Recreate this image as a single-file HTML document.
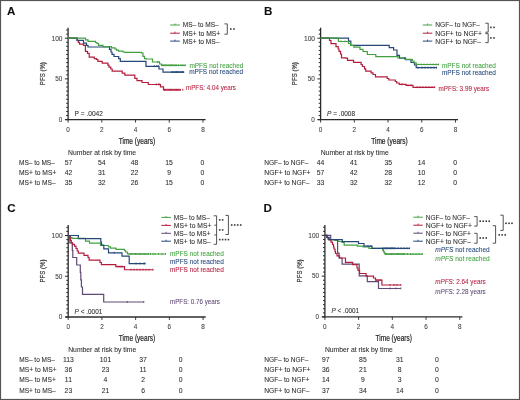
<!DOCTYPE html><html><head><meta charset="utf-8"><style>
html,body{margin:0;padding:0;background:#fff;}
svg{display:block;font-family:"Liberation Sans",sans-serif;will-change:transform;}
</style></head><body>
<svg width="520" height="400" viewBox="0 0 520 400">
<defs><filter id="bl" x="0" y="0" width="1" height="1"><feGaussianBlur stdDeviation="0.35"/></filter></defs>
<rect x="0" y="0" width="520" height="400" fill="#fff"/>
<g filter="url(#bl)">
<text x="6.9" y="15.35" font-size="11.6" fill="#111" stroke="#111" stroke-width="0.07" text-anchor="start" font-weight="bold">A</text>
<text x="264.05" y="15.3" font-size="11.6" fill="#111" stroke="#111" stroke-width="0.07" text-anchor="start" font-weight="bold">B</text>
<text x="7.2" y="212.3" font-size="11.6" fill="#111" stroke="#111" stroke-width="0.07" text-anchor="start" font-weight="bold">C</text>
<text x="263.4" y="212.3" font-size="11.6" fill="#111" stroke="#111" stroke-width="0.07" text-anchor="start" font-weight="bold">D</text>
<line x1="68.1" y1="27.700000000000003" x2="68.1" y2="120.19999999999999" stroke="#2b2b2b" stroke-width="1.3"/>
<line x1="66.19999999999999" y1="115.53" x2="68.1" y2="115.53" stroke="#2b2b2b" stroke-width="1.0"/>
<line x1="66.19999999999999" y1="111.46" x2="68.1" y2="111.46" stroke="#2b2b2b" stroke-width="1.0"/>
<line x1="66.19999999999999" y1="107.39" x2="68.1" y2="107.39" stroke="#2b2b2b" stroke-width="1.0"/>
<line x1="66.19999999999999" y1="103.32" x2="68.1" y2="103.32" stroke="#2b2b2b" stroke-width="1.0"/>
<line x1="66.19999999999999" y1="99.25" x2="68.1" y2="99.25" stroke="#2b2b2b" stroke-width="1.0"/>
<line x1="66.19999999999999" y1="95.18" x2="68.1" y2="95.18" stroke="#2b2b2b" stroke-width="1.0"/>
<line x1="66.19999999999999" y1="91.11" x2="68.1" y2="91.11" stroke="#2b2b2b" stroke-width="1.0"/>
<line x1="66.19999999999999" y1="87.04" x2="68.1" y2="87.04" stroke="#2b2b2b" stroke-width="1.0"/>
<line x1="66.19999999999999" y1="82.97" x2="68.1" y2="82.97" stroke="#2b2b2b" stroke-width="1.0"/>
<line x1="66.19999999999999" y1="74.83" x2="68.1" y2="74.83" stroke="#2b2b2b" stroke-width="1.0"/>
<line x1="66.19999999999999" y1="70.76" x2="68.1" y2="70.76" stroke="#2b2b2b" stroke-width="1.0"/>
<line x1="66.19999999999999" y1="66.69" x2="68.1" y2="66.69" stroke="#2b2b2b" stroke-width="1.0"/>
<line x1="66.19999999999999" y1="62.62" x2="68.1" y2="62.62" stroke="#2b2b2b" stroke-width="1.0"/>
<line x1="66.19999999999999" y1="58.55" x2="68.1" y2="58.55" stroke="#2b2b2b" stroke-width="1.0"/>
<line x1="66.19999999999999" y1="54.48" x2="68.1" y2="54.48" stroke="#2b2b2b" stroke-width="1.0"/>
<line x1="66.19999999999999" y1="50.41" x2="68.1" y2="50.41" stroke="#2b2b2b" stroke-width="1.0"/>
<line x1="66.19999999999999" y1="46.34" x2="68.1" y2="46.34" stroke="#2b2b2b" stroke-width="1.0"/>
<line x1="66.19999999999999" y1="42.27" x2="68.1" y2="42.27" stroke="#2b2b2b" stroke-width="1.0"/>
<line x1="66.19999999999999" y1="34.13" x2="68.1" y2="34.13" stroke="#2b2b2b" stroke-width="1.0"/>
<line x1="66.19999999999999" y1="30.06" x2="68.1" y2="30.06" stroke="#2b2b2b" stroke-width="1.0"/>
<line x1="64.89999999999999" y1="119.60" x2="68.1" y2="119.60" stroke="#2b2b2b" stroke-width="1.0"/>
<line x1="64.89999999999999" y1="78.90" x2="68.1" y2="78.90" stroke="#2b2b2b" stroke-width="1.0"/>
<line x1="64.89999999999999" y1="38.20" x2="68.1" y2="38.20" stroke="#2b2b2b" stroke-width="1.0"/>
<line x1="65.3" y1="119.6" x2="205.57999999999998" y2="119.6" stroke="#2b2b2b" stroke-width="1.3"/>
<line x1="68.10" y1="119.6" x2="68.10" y2="122.6" stroke="#2b2b2b" stroke-width="0.9"/>
<text x="68.10" y="132.00" font-size="6.4" fill="#3c3c3c" stroke="#3c3c3c" stroke-width="0.07" text-anchor="middle">0</text>
<line x1="101.82" y1="119.6" x2="101.82" y2="122.6" stroke="#2b2b2b" stroke-width="0.9"/>
<text x="101.82" y="132.00" font-size="6.4" fill="#3c3c3c" stroke="#3c3c3c" stroke-width="0.07" text-anchor="middle">2</text>
<line x1="135.54" y1="119.6" x2="135.54" y2="122.6" stroke="#2b2b2b" stroke-width="0.9"/>
<text x="135.54" y="132.00" font-size="6.4" fill="#3c3c3c" stroke="#3c3c3c" stroke-width="0.07" text-anchor="middle">4</text>
<line x1="169.26" y1="119.6" x2="169.26" y2="122.6" stroke="#2b2b2b" stroke-width="0.9"/>
<text x="169.26" y="132.00" font-size="6.4" fill="#3c3c3c" stroke="#3c3c3c" stroke-width="0.07" text-anchor="middle">6</text>
<line x1="202.98" y1="119.6" x2="202.98" y2="122.6" stroke="#2b2b2b" stroke-width="0.9"/>
<text x="202.98" y="132.00" font-size="6.4" fill="#3c3c3c" stroke="#3c3c3c" stroke-width="0.07" text-anchor="middle">8</text>
<text x="62.50" y="40.50" font-size="6.4" fill="#3c3c3c" stroke="#3c3c3c" stroke-width="0.07" text-anchor="end" textLength="11" lengthAdjust="spacingAndGlyphs">100</text>
<text x="62.30" y="81.20" font-size="6.4" fill="#3c3c3c" stroke="#3c3c3c" stroke-width="0.07" text-anchor="end">50</text>
<text x="62.30" y="121.90" font-size="6.4" fill="#3c3c3c" stroke="#3c3c3c" stroke-width="0.07" text-anchor="end">0</text>
<text x="0" y="0" font-size="7.2" fill="#2c2c2c" stroke="#2c2c2c" stroke-width="0.15" text-anchor="middle" textLength="23" lengthAdjust="spacingAndGlyphs" transform="translate(44.70,73.65) rotate(-90)">PFS (%)</text>
<text x="136.94" y="143.70" font-size="8.7" fill="#262626" stroke="#262626" stroke-width="0.22" text-anchor="middle" textLength="36.5" lengthAdjust="spacingAndGlyphs">Time (years)</text>
<line x1="320.6" y1="27.700000000000003" x2="320.6" y2="120.19999999999999" stroke="#2b2b2b" stroke-width="1.3"/>
<line x1="318.70000000000005" y1="115.53" x2="320.6" y2="115.53" stroke="#2b2b2b" stroke-width="1.0"/>
<line x1="318.70000000000005" y1="111.46" x2="320.6" y2="111.46" stroke="#2b2b2b" stroke-width="1.0"/>
<line x1="318.70000000000005" y1="107.39" x2="320.6" y2="107.39" stroke="#2b2b2b" stroke-width="1.0"/>
<line x1="318.70000000000005" y1="103.32" x2="320.6" y2="103.32" stroke="#2b2b2b" stroke-width="1.0"/>
<line x1="318.70000000000005" y1="99.25" x2="320.6" y2="99.25" stroke="#2b2b2b" stroke-width="1.0"/>
<line x1="318.70000000000005" y1="95.18" x2="320.6" y2="95.18" stroke="#2b2b2b" stroke-width="1.0"/>
<line x1="318.70000000000005" y1="91.11" x2="320.6" y2="91.11" stroke="#2b2b2b" stroke-width="1.0"/>
<line x1="318.70000000000005" y1="87.04" x2="320.6" y2="87.04" stroke="#2b2b2b" stroke-width="1.0"/>
<line x1="318.70000000000005" y1="82.97" x2="320.6" y2="82.97" stroke="#2b2b2b" stroke-width="1.0"/>
<line x1="318.70000000000005" y1="74.83" x2="320.6" y2="74.83" stroke="#2b2b2b" stroke-width="1.0"/>
<line x1="318.70000000000005" y1="70.76" x2="320.6" y2="70.76" stroke="#2b2b2b" stroke-width="1.0"/>
<line x1="318.70000000000005" y1="66.69" x2="320.6" y2="66.69" stroke="#2b2b2b" stroke-width="1.0"/>
<line x1="318.70000000000005" y1="62.62" x2="320.6" y2="62.62" stroke="#2b2b2b" stroke-width="1.0"/>
<line x1="318.70000000000005" y1="58.55" x2="320.6" y2="58.55" stroke="#2b2b2b" stroke-width="1.0"/>
<line x1="318.70000000000005" y1="54.48" x2="320.6" y2="54.48" stroke="#2b2b2b" stroke-width="1.0"/>
<line x1="318.70000000000005" y1="50.41" x2="320.6" y2="50.41" stroke="#2b2b2b" stroke-width="1.0"/>
<line x1="318.70000000000005" y1="46.34" x2="320.6" y2="46.34" stroke="#2b2b2b" stroke-width="1.0"/>
<line x1="318.70000000000005" y1="42.27" x2="320.6" y2="42.27" stroke="#2b2b2b" stroke-width="1.0"/>
<line x1="318.70000000000005" y1="34.13" x2="320.6" y2="34.13" stroke="#2b2b2b" stroke-width="1.0"/>
<line x1="318.70000000000005" y1="30.06" x2="320.6" y2="30.06" stroke="#2b2b2b" stroke-width="1.0"/>
<line x1="317.40000000000003" y1="119.60" x2="320.6" y2="119.60" stroke="#2b2b2b" stroke-width="1.0"/>
<line x1="317.40000000000003" y1="78.90" x2="320.6" y2="78.90" stroke="#2b2b2b" stroke-width="1.0"/>
<line x1="317.40000000000003" y1="38.20" x2="320.6" y2="38.20" stroke="#2b2b2b" stroke-width="1.0"/>
<line x1="317.8" y1="119.6" x2="458.08000000000004" y2="119.6" stroke="#2b2b2b" stroke-width="1.3"/>
<line x1="320.60" y1="119.6" x2="320.60" y2="122.6" stroke="#2b2b2b" stroke-width="0.9"/>
<text x="320.60" y="132.00" font-size="6.4" fill="#3c3c3c" stroke="#3c3c3c" stroke-width="0.07" text-anchor="middle">0</text>
<line x1="354.32" y1="119.6" x2="354.32" y2="122.6" stroke="#2b2b2b" stroke-width="0.9"/>
<text x="354.32" y="132.00" font-size="6.4" fill="#3c3c3c" stroke="#3c3c3c" stroke-width="0.07" text-anchor="middle">2</text>
<line x1="388.04" y1="119.6" x2="388.04" y2="122.6" stroke="#2b2b2b" stroke-width="0.9"/>
<text x="388.04" y="132.00" font-size="6.4" fill="#3c3c3c" stroke="#3c3c3c" stroke-width="0.07" text-anchor="middle">4</text>
<line x1="421.76" y1="119.6" x2="421.76" y2="122.6" stroke="#2b2b2b" stroke-width="0.9"/>
<text x="421.76" y="132.00" font-size="6.4" fill="#3c3c3c" stroke="#3c3c3c" stroke-width="0.07" text-anchor="middle">6</text>
<line x1="455.48" y1="119.6" x2="455.48" y2="122.6" stroke="#2b2b2b" stroke-width="0.9"/>
<text x="455.48" y="132.00" font-size="6.4" fill="#3c3c3c" stroke="#3c3c3c" stroke-width="0.07" text-anchor="middle">8</text>
<text x="315.00" y="40.50" font-size="6.4" fill="#3c3c3c" stroke="#3c3c3c" stroke-width="0.07" text-anchor="end" textLength="11" lengthAdjust="spacingAndGlyphs">100</text>
<text x="314.80" y="81.20" font-size="6.4" fill="#3c3c3c" stroke="#3c3c3c" stroke-width="0.07" text-anchor="end">50</text>
<text x="314.80" y="121.90" font-size="6.4" fill="#3c3c3c" stroke="#3c3c3c" stroke-width="0.07" text-anchor="end">0</text>
<text x="0" y="0" font-size="7.2" fill="#2c2c2c" stroke="#2c2c2c" stroke-width="0.15" text-anchor="middle" textLength="23" lengthAdjust="spacingAndGlyphs" transform="translate(297.20,73.65) rotate(-90)">PFS (%)</text>
<text x="389.44" y="143.70" font-size="8.7" fill="#262626" stroke="#262626" stroke-width="0.22" text-anchor="middle" textLength="36.5" lengthAdjust="spacingAndGlyphs">Time (years)</text>
<line x1="68.2" y1="225.0" x2="68.2" y2="317.6" stroke="#2b2b2b" stroke-width="1.3"/>
<line x1="66.3" y1="312.93" x2="68.2" y2="312.93" stroke="#2b2b2b" stroke-width="1.0"/>
<line x1="66.3" y1="308.85" x2="68.2" y2="308.85" stroke="#2b2b2b" stroke-width="1.0"/>
<line x1="66.3" y1="304.78" x2="68.2" y2="304.78" stroke="#2b2b2b" stroke-width="1.0"/>
<line x1="66.3" y1="300.70" x2="68.2" y2="300.70" stroke="#2b2b2b" stroke-width="1.0"/>
<line x1="66.3" y1="296.63" x2="68.2" y2="296.63" stroke="#2b2b2b" stroke-width="1.0"/>
<line x1="66.3" y1="292.55" x2="68.2" y2="292.55" stroke="#2b2b2b" stroke-width="1.0"/>
<line x1="66.3" y1="288.48" x2="68.2" y2="288.48" stroke="#2b2b2b" stroke-width="1.0"/>
<line x1="66.3" y1="284.40" x2="68.2" y2="284.40" stroke="#2b2b2b" stroke-width="1.0"/>
<line x1="66.3" y1="280.33" x2="68.2" y2="280.33" stroke="#2b2b2b" stroke-width="1.0"/>
<line x1="66.3" y1="272.18" x2="68.2" y2="272.18" stroke="#2b2b2b" stroke-width="1.0"/>
<line x1="66.3" y1="268.10" x2="68.2" y2="268.10" stroke="#2b2b2b" stroke-width="1.0"/>
<line x1="66.3" y1="264.03" x2="68.2" y2="264.03" stroke="#2b2b2b" stroke-width="1.0"/>
<line x1="66.3" y1="259.95" x2="68.2" y2="259.95" stroke="#2b2b2b" stroke-width="1.0"/>
<line x1="66.3" y1="255.88" x2="68.2" y2="255.88" stroke="#2b2b2b" stroke-width="1.0"/>
<line x1="66.3" y1="251.80" x2="68.2" y2="251.80" stroke="#2b2b2b" stroke-width="1.0"/>
<line x1="66.3" y1="247.73" x2="68.2" y2="247.73" stroke="#2b2b2b" stroke-width="1.0"/>
<line x1="66.3" y1="243.65" x2="68.2" y2="243.65" stroke="#2b2b2b" stroke-width="1.0"/>
<line x1="66.3" y1="239.58" x2="68.2" y2="239.58" stroke="#2b2b2b" stroke-width="1.0"/>
<line x1="66.3" y1="231.43" x2="68.2" y2="231.43" stroke="#2b2b2b" stroke-width="1.0"/>
<line x1="66.3" y1="227.35" x2="68.2" y2="227.35" stroke="#2b2b2b" stroke-width="1.0"/>
<line x1="65.0" y1="317.00" x2="68.2" y2="317.00" stroke="#2b2b2b" stroke-width="1.0"/>
<line x1="65.0" y1="276.25" x2="68.2" y2="276.25" stroke="#2b2b2b" stroke-width="1.0"/>
<line x1="65.0" y1="235.50" x2="68.2" y2="235.50" stroke="#2b2b2b" stroke-width="1.0"/>
<line x1="65.4" y1="317.0" x2="205.67999999999998" y2="317.0" stroke="#2b2b2b" stroke-width="1.3"/>
<line x1="68.20" y1="317.0" x2="68.20" y2="320.0" stroke="#2b2b2b" stroke-width="0.9"/>
<text x="68.20" y="329.40" font-size="6.4" fill="#3c3c3c" stroke="#3c3c3c" stroke-width="0.07" text-anchor="middle">0</text>
<line x1="101.92" y1="317.0" x2="101.92" y2="320.0" stroke="#2b2b2b" stroke-width="0.9"/>
<text x="101.92" y="329.40" font-size="6.4" fill="#3c3c3c" stroke="#3c3c3c" stroke-width="0.07" text-anchor="middle">2</text>
<line x1="135.64" y1="317.0" x2="135.64" y2="320.0" stroke="#2b2b2b" stroke-width="0.9"/>
<text x="135.64" y="329.40" font-size="6.4" fill="#3c3c3c" stroke="#3c3c3c" stroke-width="0.07" text-anchor="middle">4</text>
<line x1="169.36" y1="317.0" x2="169.36" y2="320.0" stroke="#2b2b2b" stroke-width="0.9"/>
<text x="169.36" y="329.40" font-size="6.4" fill="#3c3c3c" stroke="#3c3c3c" stroke-width="0.07" text-anchor="middle">6</text>
<line x1="203.08" y1="317.0" x2="203.08" y2="320.0" stroke="#2b2b2b" stroke-width="0.9"/>
<text x="203.08" y="329.40" font-size="6.4" fill="#3c3c3c" stroke="#3c3c3c" stroke-width="0.07" text-anchor="middle">8</text>
<text x="62.60" y="237.80" font-size="6.4" fill="#3c3c3c" stroke="#3c3c3c" stroke-width="0.07" text-anchor="end" textLength="11" lengthAdjust="spacingAndGlyphs">100</text>
<text x="62.40" y="278.55" font-size="6.4" fill="#3c3c3c" stroke="#3c3c3c" stroke-width="0.07" text-anchor="end">50</text>
<text x="62.40" y="319.30" font-size="6.4" fill="#3c3c3c" stroke="#3c3c3c" stroke-width="0.07" text-anchor="end">0</text>
<text x="0" y="0" font-size="7.2" fill="#2c2c2c" stroke="#2c2c2c" stroke-width="0.15" text-anchor="middle" textLength="23" lengthAdjust="spacingAndGlyphs" transform="translate(44.80,271.00) rotate(-90)">PFS (%)</text>
<text x="137.04" y="341.10" font-size="8.7" fill="#262626" stroke="#262626" stroke-width="0.22" text-anchor="middle" textLength="36.5" lengthAdjust="spacingAndGlyphs">Time (years)</text>
<line x1="324.9" y1="224.9" x2="324.9" y2="317.5" stroke="#2b2b2b" stroke-width="1.3"/>
<line x1="323.0" y1="312.82" x2="324.9" y2="312.82" stroke="#2b2b2b" stroke-width="1.0"/>
<line x1="323.0" y1="308.75" x2="324.9" y2="308.75" stroke="#2b2b2b" stroke-width="1.0"/>
<line x1="323.0" y1="304.68" x2="324.9" y2="304.68" stroke="#2b2b2b" stroke-width="1.0"/>
<line x1="323.0" y1="300.60" x2="324.9" y2="300.60" stroke="#2b2b2b" stroke-width="1.0"/>
<line x1="323.0" y1="296.53" x2="324.9" y2="296.53" stroke="#2b2b2b" stroke-width="1.0"/>
<line x1="323.0" y1="292.45" x2="324.9" y2="292.45" stroke="#2b2b2b" stroke-width="1.0"/>
<line x1="323.0" y1="288.38" x2="324.9" y2="288.38" stroke="#2b2b2b" stroke-width="1.0"/>
<line x1="323.0" y1="284.30" x2="324.9" y2="284.30" stroke="#2b2b2b" stroke-width="1.0"/>
<line x1="323.0" y1="280.23" x2="324.9" y2="280.23" stroke="#2b2b2b" stroke-width="1.0"/>
<line x1="323.0" y1="272.08" x2="324.9" y2="272.08" stroke="#2b2b2b" stroke-width="1.0"/>
<line x1="323.0" y1="268.00" x2="324.9" y2="268.00" stroke="#2b2b2b" stroke-width="1.0"/>
<line x1="323.0" y1="263.93" x2="324.9" y2="263.93" stroke="#2b2b2b" stroke-width="1.0"/>
<line x1="323.0" y1="259.85" x2="324.9" y2="259.85" stroke="#2b2b2b" stroke-width="1.0"/>
<line x1="323.0" y1="255.78" x2="324.9" y2="255.78" stroke="#2b2b2b" stroke-width="1.0"/>
<line x1="323.0" y1="251.70" x2="324.9" y2="251.70" stroke="#2b2b2b" stroke-width="1.0"/>
<line x1="323.0" y1="247.63" x2="324.9" y2="247.63" stroke="#2b2b2b" stroke-width="1.0"/>
<line x1="323.0" y1="243.55" x2="324.9" y2="243.55" stroke="#2b2b2b" stroke-width="1.0"/>
<line x1="323.0" y1="239.48" x2="324.9" y2="239.48" stroke="#2b2b2b" stroke-width="1.0"/>
<line x1="323.0" y1="231.33" x2="324.9" y2="231.33" stroke="#2b2b2b" stroke-width="1.0"/>
<line x1="323.0" y1="227.25" x2="324.9" y2="227.25" stroke="#2b2b2b" stroke-width="1.0"/>
<line x1="321.7" y1="316.90" x2="324.9" y2="316.90" stroke="#2b2b2b" stroke-width="1.0"/>
<line x1="321.7" y1="276.15" x2="324.9" y2="276.15" stroke="#2b2b2b" stroke-width="1.0"/>
<line x1="321.7" y1="235.40" x2="324.9" y2="235.40" stroke="#2b2b2b" stroke-width="1.0"/>
<line x1="322.09999999999997" y1="316.9" x2="462.38" y2="316.9" stroke="#2b2b2b" stroke-width="1.3"/>
<line x1="324.90" y1="316.9" x2="324.90" y2="319.9" stroke="#2b2b2b" stroke-width="0.9"/>
<text x="324.90" y="329.30" font-size="6.4" fill="#3c3c3c" stroke="#3c3c3c" stroke-width="0.07" text-anchor="middle">0</text>
<line x1="358.62" y1="316.9" x2="358.62" y2="319.9" stroke="#2b2b2b" stroke-width="0.9"/>
<text x="358.62" y="329.30" font-size="6.4" fill="#3c3c3c" stroke="#3c3c3c" stroke-width="0.07" text-anchor="middle">2</text>
<line x1="392.34" y1="316.9" x2="392.34" y2="319.9" stroke="#2b2b2b" stroke-width="0.9"/>
<text x="392.34" y="329.30" font-size="6.4" fill="#3c3c3c" stroke="#3c3c3c" stroke-width="0.07" text-anchor="middle">4</text>
<line x1="426.06" y1="316.9" x2="426.06" y2="319.9" stroke="#2b2b2b" stroke-width="0.9"/>
<text x="426.06" y="329.30" font-size="6.4" fill="#3c3c3c" stroke="#3c3c3c" stroke-width="0.07" text-anchor="middle">6</text>
<line x1="459.78" y1="316.9" x2="459.78" y2="319.9" stroke="#2b2b2b" stroke-width="0.9"/>
<text x="459.78" y="329.30" font-size="6.4" fill="#3c3c3c" stroke="#3c3c3c" stroke-width="0.07" text-anchor="middle">8</text>
<text x="319.30" y="237.70" font-size="6.4" fill="#3c3c3c" stroke="#3c3c3c" stroke-width="0.07" text-anchor="end" textLength="11" lengthAdjust="spacingAndGlyphs">100</text>
<text x="319.10" y="278.45" font-size="6.4" fill="#3c3c3c" stroke="#3c3c3c" stroke-width="0.07" text-anchor="end">50</text>
<text x="319.10" y="319.20" font-size="6.4" fill="#3c3c3c" stroke="#3c3c3c" stroke-width="0.07" text-anchor="end">0</text>
<text x="0" y="0" font-size="7.2" fill="#2c2c2c" stroke="#2c2c2c" stroke-width="0.15" text-anchor="middle" textLength="23" lengthAdjust="spacingAndGlyphs" transform="translate(301.50,270.90) rotate(-90)">PFS (%)</text>
<text x="393.74" y="341.00" font-size="8.7" fill="#262626" stroke="#262626" stroke-width="0.22" text-anchor="middle" textLength="36.5" lengthAdjust="spacingAndGlyphs">Time (years)</text>
<path d="M68,38.2 L77.1,38.2 L77.1,40.5 L78.3,40.5 L78.3,42.4 L79.5,42.4 L79.5,44.1 L83.5,44.1 L83.5,45.4 L85.4,45.4 L85.4,51.4 L87.5,51.4 L87.5,53.3 L89.2,53.3 L89.2,57.2 L94.3,57.2 L94.3,58.6 L96.5,58.6 L96.5,59.5 L97.9,59.5 L97.9,61.3 L102.2,61.3 L102.2,63.2 L107.9,63.2 L107.9,65.2 L109,65.2 L109,67.1 L110.8,67.1 L110.8,69 L112.2,69 L112.2,71.1 L122.2,71.1 L122.2,73.2 L124.8,73.2 L124.8,75.2 L134.8,75.2 L134.8,78.3 L137,78.3 L137,80.6 L142,80.6 L142,82.5 L148.3,82.5 L148.3,84.5 L160.5,84.5 L160.5,86.8 L163.5,86.8 L163.5,89.8 L181,89.8 L181,89.8" fill="none" stroke="#b41e3e" stroke-width="1.2" stroke-linejoin="miter"/>
<path d="M68,38.2 L77.1,38.2 L77.1,40.4 L83.5,40.4 L83.5,43.1 L86.5,43.1 L86.5,45.4 L88,45.4 L88,47 L109.5,47 L109.5,49.4 L111,49.4 L111,52 L112,52 L112,54.4 L114,54.4 L114,56.5 L118.7,56.5 L118.7,58.6 L120.3,58.6 L120.3,61.3 L146,61.3 L146,66.3 L159,66.3 L159,69 L163,69 L163,72.2 L183.8,72.2 L183.8,72.2" fill="none" stroke="#25477a" stroke-width="1.2" stroke-linejoin="miter"/>
<path d="M68,38.2 L85.5,38.2 L85.5,39.8 L88,39.8 L88,41.3 L95.5,41.3 L95.5,42.5 L97,42.5 L97,43.5 L98.5,43.5 L98.5,45.4 L103,45.4 L103,46.7 L111.5,46.7 L111.5,47.8 L115,47.8 L115,49 L116.5,49 L116.5,50.2 L118.5,50.2 L118.5,51.2 L123,51.2 L123,52 L124.6,52 L124.6,52.3 L141.3,52.3 L141.3,53 L143,53 L143,56.3 L144.5,56.3 L144.5,58.6 L146,58.6 L146,59 L152.5,59 L152.5,62 L159.5,62 L159.5,64 L161.5,64 L161.5,65.4 L185.8,65.4 L185.8,65.4" fill="none" stroke="#42a040" stroke-width="1.2" stroke-linejoin="miter"/>
<line x1="157.5" y1="61.00" x2="157.5" y2="62.80" stroke="#42a040" stroke-width="1.0"/>
<line x1="159" y1="61.00" x2="159" y2="62.80" stroke="#42a040" stroke-width="1.0"/>
<line x1="162" y1="64.40" x2="162" y2="66.20" stroke="#42a040" stroke-width="1.0"/>
<line x1="163.2" y1="64.40" x2="163.2" y2="66.20" stroke="#42a040" stroke-width="1.0"/>
<line x1="164.4" y1="64.40" x2="164.4" y2="66.20" stroke="#42a040" stroke-width="1.0"/>
<line x1="165.6" y1="64.40" x2="165.6" y2="66.20" stroke="#42a040" stroke-width="1.0"/>
<line x1="166.8" y1="64.40" x2="166.8" y2="66.20" stroke="#42a040" stroke-width="1.0"/>
<line x1="168.0" y1="64.40" x2="168.0" y2="66.20" stroke="#42a040" stroke-width="1.0"/>
<line x1="169.2" y1="64.40" x2="169.2" y2="66.20" stroke="#42a040" stroke-width="1.0"/>
<line x1="170.4" y1="64.40" x2="170.4" y2="66.20" stroke="#42a040" stroke-width="1.0"/>
<line x1="171.6" y1="64.40" x2="171.6" y2="66.20" stroke="#42a040" stroke-width="1.0"/>
<line x1="172.8" y1="64.40" x2="172.8" y2="66.20" stroke="#42a040" stroke-width="1.0"/>
<line x1="174.0" y1="64.40" x2="174.0" y2="66.20" stroke="#42a040" stroke-width="1.0"/>
<line x1="175.2" y1="64.40" x2="175.2" y2="66.20" stroke="#42a040" stroke-width="1.0"/>
<line x1="176.4" y1="64.40" x2="176.4" y2="66.20" stroke="#42a040" stroke-width="1.0"/>
<line x1="178.5" y1="64.40" x2="178.5" y2="66.20" stroke="#42a040" stroke-width="1.0"/>
<line x1="181" y1="64.40" x2="181" y2="66.20" stroke="#42a040" stroke-width="1.0"/>
<line x1="182.8" y1="64.40" x2="182.8" y2="66.20" stroke="#42a040" stroke-width="1.0"/>
<line x1="185.2" y1="64.40" x2="185.2" y2="66.20" stroke="#42a040" stroke-width="1.0"/>
<line x1="154.4" y1="65.30" x2="154.4" y2="67.10" stroke="#25477a" stroke-width="1.0"/>
<line x1="156.8" y1="65.30" x2="156.8" y2="67.10" stroke="#25477a" stroke-width="1.0"/>
<line x1="158.3" y1="65.30" x2="158.3" y2="67.10" stroke="#25477a" stroke-width="1.0"/>
<line x1="171.7" y1="71.20" x2="171.7" y2="73.00" stroke="#25477a" stroke-width="1.0"/>
<line x1="172.9" y1="71.20" x2="172.9" y2="73.00" stroke="#25477a" stroke-width="1.0"/>
<line x1="174.1" y1="71.20" x2="174.1" y2="73.00" stroke="#25477a" stroke-width="1.0"/>
<line x1="175.3" y1="71.20" x2="175.3" y2="73.00" stroke="#25477a" stroke-width="1.0"/>
<line x1="176.5" y1="71.20" x2="176.5" y2="73.00" stroke="#25477a" stroke-width="1.0"/>
<line x1="177.7" y1="71.20" x2="177.7" y2="73.00" stroke="#25477a" stroke-width="1.0"/>
<line x1="178.9" y1="71.20" x2="178.9" y2="73.00" stroke="#25477a" stroke-width="1.0"/>
<line x1="180.1" y1="71.20" x2="180.1" y2="73.00" stroke="#25477a" stroke-width="1.0"/>
<line x1="181.3" y1="71.20" x2="181.3" y2="73.00" stroke="#25477a" stroke-width="1.0"/>
<line x1="182.5" y1="71.20" x2="182.5" y2="73.00" stroke="#25477a" stroke-width="1.0"/>
<line x1="183.7" y1="71.20" x2="183.7" y2="73.00" stroke="#25477a" stroke-width="1.0"/>
<line x1="156.3" y1="83.50" x2="156.3" y2="85.30" stroke="#b41e3e" stroke-width="1.0"/>
<line x1="158.3" y1="83.50" x2="158.3" y2="85.30" stroke="#b41e3e" stroke-width="1.0"/>
<line x1="159.7" y1="83.50" x2="159.7" y2="85.30" stroke="#b41e3e" stroke-width="1.0"/>
<line x1="164.5" y1="88.80" x2="164.5" y2="90.60" stroke="#b41e3e" stroke-width="1.0"/>
<line x1="165.7" y1="88.80" x2="165.7" y2="90.60" stroke="#b41e3e" stroke-width="1.0"/>
<line x1="166.9" y1="88.80" x2="166.9" y2="90.60" stroke="#b41e3e" stroke-width="1.0"/>
<line x1="168.1" y1="88.80" x2="168.1" y2="90.60" stroke="#b41e3e" stroke-width="1.0"/>
<line x1="169.3" y1="88.80" x2="169.3" y2="90.60" stroke="#b41e3e" stroke-width="1.0"/>
<line x1="170.5" y1="88.80" x2="170.5" y2="90.60" stroke="#b41e3e" stroke-width="1.0"/>
<line x1="171.7" y1="88.80" x2="171.7" y2="90.60" stroke="#b41e3e" stroke-width="1.0"/>
<line x1="172.9" y1="88.80" x2="172.9" y2="90.60" stroke="#b41e3e" stroke-width="1.0"/>
<line x1="174.1" y1="88.80" x2="174.1" y2="90.60" stroke="#b41e3e" stroke-width="1.0"/>
<line x1="175.3" y1="88.80" x2="175.3" y2="90.60" stroke="#b41e3e" stroke-width="1.0"/>
<line x1="176.5" y1="88.80" x2="176.5" y2="90.60" stroke="#b41e3e" stroke-width="1.0"/>
<line x1="177.7" y1="88.80" x2="177.7" y2="90.60" stroke="#b41e3e" stroke-width="1.0"/>
<line x1="178.9" y1="88.80" x2="178.9" y2="90.60" stroke="#b41e3e" stroke-width="1.0"/>
<line x1="180.1" y1="88.80" x2="180.1" y2="90.60" stroke="#b41e3e" stroke-width="1.0"/>
<line x1="182.8" y1="88.80" x2="182.8" y2="90.60" stroke="#b41e3e" stroke-width="1.0"/>
<path d="M320.5,38.2 L329.5,38.2 L329.5,40.5 L331,40.5 L331,43.6 L336,43.6 L336,46.7 L338.2,46.7 L338.2,49 L339,49 L339,51.3 L340.5,51.3 L340.5,54 L341.5,54 L341.5,57.8 L345.7,57.8 L345.7,58.2 L347.5,58.2 L347.5,60.3 L353.5,60.3 L353.5,62.3 L361.1,62.3 L361.1,64.5 L362.3,64.5 L362.3,66.5 L364.5,66.5 L364.5,68.8 L365.7,68.8 L365.7,71.1 L371.1,71.1 L371.1,72.8 L373,72.8 L373,74.5 L375.5,74.5 L375.5,76.8 L387.2,76.8 L387.2,78.5 L388.8,78.5 L388.8,80 L395.3,80 L395.3,81.5 L396.7,81.5 L396.7,83 L399.2,83 L399.2,84.4 L406,84.4 L406,85.4 L413,85.4 L413,87.3 L434.7,87.3 L434.7,87.3" fill="none" stroke="#b41e3e" stroke-width="1.2" stroke-linejoin="miter"/>
<path d="M320.5,38.2 L348.5,38.2 L348.5,41.1 L350.8,41.1 L350.8,45.3 L389.2,45.3 L389.2,47.7 L393.6,47.7 L393.6,50 L397,50 L397,55.4 L399.5,55.4 L399.5,58.1 L405.5,58.1 L405.5,59.6 L411,59.6 L411,62.5 L414.5,62.5 L414.5,65 L416.2,65 L416.2,67.7 L436.8,67.7 L436.8,67.7" fill="none" stroke="#25477a" stroke-width="1.2" stroke-linejoin="miter"/>
<path d="M320.5,38.2 L338.4,38.2 L338.4,41.5 L348.5,41.5 L348.5,43.5 L350.5,43.5 L350.5,45.4 L353.8,45.4 L353.8,47.2 L360,47.2 L360,49.4 L363,49.4 L363,51.5 L367.3,51.5 L367.3,54.5 L375.8,54.5 L375.8,56.6 L398,56.6 L398,58 L405,58 L405,59.3 L412.3,59.3 L412.3,61 L414,61 L414,62.8 L416.2,62.8 L416.2,64.5 L439,64.5 L439,64.5" fill="none" stroke="#42a040" stroke-width="1.2" stroke-linejoin="miter"/>
<line x1="341" y1="40.50" x2="341" y2="42.30" stroke="#42a040" stroke-width="1.0"/>
<line x1="345" y1="40.50" x2="345" y2="42.30" stroke="#42a040" stroke-width="1.0"/>
<line x1="418" y1="63.50" x2="418" y2="65.30" stroke="#42a040" stroke-width="1.0"/>
<line x1="421" y1="63.50" x2="421" y2="65.30" stroke="#42a040" stroke-width="1.0"/>
<line x1="424" y1="63.50" x2="424" y2="65.30" stroke="#42a040" stroke-width="1.0"/>
<line x1="427" y1="63.50" x2="427" y2="65.30" stroke="#42a040" stroke-width="1.0"/>
<line x1="430" y1="63.50" x2="430" y2="65.30" stroke="#42a040" stroke-width="1.0"/>
<line x1="433" y1="63.50" x2="433" y2="65.30" stroke="#42a040" stroke-width="1.0"/>
<line x1="436" y1="63.50" x2="436" y2="65.30" stroke="#42a040" stroke-width="1.0"/>
<line x1="438.5" y1="63.50" x2="438.5" y2="65.30" stroke="#42a040" stroke-width="1.0"/>
<line x1="405" y1="57.10" x2="405" y2="58.90" stroke="#25477a" stroke-width="1.0"/>
<line x1="418" y1="66.70" x2="418" y2="68.50" stroke="#25477a" stroke-width="1.0"/>
<line x1="422" y1="66.70" x2="422" y2="68.50" stroke="#25477a" stroke-width="1.0"/>
<line x1="425" y1="66.70" x2="425" y2="68.50" stroke="#25477a" stroke-width="1.0"/>
<line x1="428" y1="66.70" x2="428" y2="68.50" stroke="#25477a" stroke-width="1.0"/>
<line x1="431" y1="66.70" x2="431" y2="68.50" stroke="#25477a" stroke-width="1.0"/>
<line x1="434" y1="66.70" x2="434" y2="68.50" stroke="#25477a" stroke-width="1.0"/>
<line x1="436.5" y1="66.70" x2="436.5" y2="68.50" stroke="#25477a" stroke-width="1.0"/>
<line x1="402" y1="83.40" x2="402" y2="85.20" stroke="#b41e3e" stroke-width="1.0"/>
<line x1="408" y1="84.40" x2="408" y2="86.20" stroke="#b41e3e" stroke-width="1.0"/>
<line x1="411" y1="84.40" x2="411" y2="86.20" stroke="#b41e3e" stroke-width="1.0"/>
<line x1="417" y1="86.30" x2="417" y2="88.10" stroke="#b41e3e" stroke-width="1.0"/>
<line x1="420" y1="86.30" x2="420" y2="88.10" stroke="#b41e3e" stroke-width="1.0"/>
<line x1="423" y1="86.30" x2="423" y2="88.10" stroke="#b41e3e" stroke-width="1.0"/>
<line x1="426" y1="86.30" x2="426" y2="88.10" stroke="#b41e3e" stroke-width="1.0"/>
<line x1="429" y1="86.30" x2="429" y2="88.10" stroke="#b41e3e" stroke-width="1.0"/>
<line x1="432" y1="86.30" x2="432" y2="88.10" stroke="#b41e3e" stroke-width="1.0"/>
<line x1="434.7" y1="86.30" x2="434.7" y2="88.10" stroke="#b41e3e" stroke-width="1.0"/>
<path d="M68.2,235.5 L69.5,235.5 L69.5,236.5 L70.5,236.5 L70.5,237.5 L72,237.5 L72,238.3 L85.5,238.3 L85.5,241.2 L89.5,241.2 L89.5,243.2 L100.5,243.2 L100.5,245.5 L108.5,245.5 L108.5,246.8 L110.5,246.8 L110.5,248.2 L116,248.2 L116,249.3 L124.5,249.3 L124.5,250.5 L125.5,250.5 L125.5,252 L127.5,252 L127.5,254 L165.7,254 L165.7,254" fill="none" stroke="#42a040" stroke-width="1.2" stroke-linejoin="miter"/>
<path d="M68.2,235.5 L69.8,235.5 L69.8,242.9 L72.3,242.9 L72.3,250.3 L72.8,250.3 L72.8,257.5 L76.7,257.5 L76.7,265 L80.3,265 L80.3,272.4 L80.8,272.4 L80.8,279.8 L81.4,279.8 L81.4,287 L82.5,287 L82.5,294.3 L103.7,294.3 L103.7,302 L143.8,302 L143.8,302" fill="none" stroke="#5f4a74" stroke-width="1.2" stroke-linejoin="miter"/>
<path d="M68.2,235.5 L69.8,235.5 L69.8,238.2 L70.5,238.2 L70.5,240.5 L71.3,240.5 L71.3,242.8 L72.5,242.8 L72.5,244.3 L74.5,244.3 L74.5,246.2 L76,246.2 L76,248.5 L77.2,248.5 L77.2,251 L78.3,251 L78.3,253.2 L84,253.2 L84,255.3 L88,255.3 L88,257.5 L89.1,257.5 L89.1,260.1 L100,260.1 L100,262.5 L101.4,262.5 L101.4,264.7 L115.8,264.7 L115.8,266.6 L124.5,266.6 L124.5,269.75 L153,269.75 L153,269.75" fill="none" stroke="#b41e3e" stroke-width="1.2" stroke-linejoin="miter"/>
<path d="M68.2,235.5 L78.4,235.5 L78.4,238.7 L100.8,238.7 L100.8,242 L101.5,242 L101.5,245.1 L103.8,245.1 L103.8,248.9 L108.5,248.9 L108.5,252.8 L122,252.8 L122,256.2 L129.2,256.2 L129.2,263.6 L145.1,263.6 L145.1,263.6" fill="none" stroke="#25477a" stroke-width="1.2" stroke-linejoin="miter"/>
<line x1="78" y1="237.30" x2="78" y2="239.10" stroke="#42a040" stroke-width="1.0"/>
<line x1="129.0" y1="253.00" x2="129.0" y2="254.80" stroke="#42a040" stroke-width="1.0"/>
<line x1="130.3" y1="253.00" x2="130.3" y2="254.80" stroke="#42a040" stroke-width="1.0"/>
<line x1="131.6" y1="253.00" x2="131.6" y2="254.80" stroke="#42a040" stroke-width="1.0"/>
<line x1="132.9" y1="253.00" x2="132.9" y2="254.80" stroke="#42a040" stroke-width="1.0"/>
<line x1="134.2" y1="253.00" x2="134.2" y2="254.80" stroke="#42a040" stroke-width="1.0"/>
<line x1="135.5" y1="253.00" x2="135.5" y2="254.80" stroke="#42a040" stroke-width="1.0"/>
<line x1="136.8" y1="253.00" x2="136.8" y2="254.80" stroke="#42a040" stroke-width="1.0"/>
<line x1="138.1" y1="253.00" x2="138.1" y2="254.80" stroke="#42a040" stroke-width="1.0"/>
<line x1="139.4" y1="253.00" x2="139.4" y2="254.80" stroke="#42a040" stroke-width="1.0"/>
<line x1="140.7" y1="253.00" x2="140.7" y2="254.80" stroke="#42a040" stroke-width="1.0"/>
<line x1="142.0" y1="253.00" x2="142.0" y2="254.80" stroke="#42a040" stroke-width="1.0"/>
<line x1="143.3" y1="253.00" x2="143.3" y2="254.80" stroke="#42a040" stroke-width="1.0"/>
<line x1="144.6" y1="253.00" x2="144.6" y2="254.80" stroke="#42a040" stroke-width="1.0"/>
<line x1="145.9" y1="253.00" x2="145.9" y2="254.80" stroke="#42a040" stroke-width="1.0"/>
<line x1="147.2" y1="253.00" x2="147.2" y2="254.80" stroke="#42a040" stroke-width="1.0"/>
<line x1="148.5" y1="253.00" x2="148.5" y2="254.80" stroke="#42a040" stroke-width="1.0"/>
<line x1="150.5" y1="253.00" x2="150.5" y2="254.80" stroke="#42a040" stroke-width="1.0"/>
<line x1="153" y1="253.00" x2="153" y2="254.80" stroke="#42a040" stroke-width="1.0"/>
<line x1="155" y1="253.00" x2="155" y2="254.80" stroke="#42a040" stroke-width="1.0"/>
<line x1="158.5" y1="253.00" x2="158.5" y2="254.80" stroke="#42a040" stroke-width="1.0"/>
<line x1="162" y1="253.00" x2="162" y2="254.80" stroke="#42a040" stroke-width="1.0"/>
<line x1="165.5" y1="253.00" x2="165.5" y2="254.80" stroke="#42a040" stroke-width="1.0"/>
<line x1="114.2" y1="251.80" x2="114.2" y2="253.60" stroke="#25477a" stroke-width="1.0"/>
<line x1="136" y1="262.60" x2="136" y2="264.40" stroke="#25477a" stroke-width="1.0"/>
<line x1="140" y1="262.60" x2="140" y2="264.40" stroke="#25477a" stroke-width="1.0"/>
<line x1="144" y1="262.60" x2="144" y2="264.40" stroke="#25477a" stroke-width="1.0"/>
<line x1="145.1" y1="262.60" x2="145.1" y2="264.40" stroke="#25477a" stroke-width="1.0"/>
<line x1="118" y1="265.60" x2="118" y2="267.40" stroke="#b41e3e" stroke-width="1.0"/>
<line x1="120" y1="265.60" x2="120" y2="267.40" stroke="#b41e3e" stroke-width="1.0"/>
<line x1="122" y1="265.60" x2="122" y2="267.40" stroke="#b41e3e" stroke-width="1.0"/>
<line x1="131" y1="268.75" x2="131" y2="270.55" stroke="#b41e3e" stroke-width="1.0"/>
<line x1="134" y1="268.75" x2="134" y2="270.55" stroke="#b41e3e" stroke-width="1.0"/>
<line x1="137" y1="268.75" x2="137" y2="270.55" stroke="#b41e3e" stroke-width="1.0"/>
<line x1="140" y1="268.75" x2="140" y2="270.55" stroke="#b41e3e" stroke-width="1.0"/>
<line x1="143" y1="268.75" x2="143" y2="270.55" stroke="#b41e3e" stroke-width="1.0"/>
<line x1="146" y1="268.75" x2="146" y2="270.55" stroke="#b41e3e" stroke-width="1.0"/>
<line x1="149" y1="268.75" x2="149" y2="270.55" stroke="#b41e3e" stroke-width="1.0"/>
<line x1="153" y1="268.75" x2="153" y2="270.55" stroke="#b41e3e" stroke-width="1.0"/>
<line x1="127.3" y1="301.00" x2="127.3" y2="302.80" stroke="#5f4a74" stroke-width="1.0"/>
<line x1="143.8" y1="301.00" x2="143.8" y2="302.80" stroke="#5f4a74" stroke-width="1.0"/>
<path d="M324.9,235.4 L326.5,235.4 L326.5,237.5 L328,237.5 L328,239.5 L335,239.5 L335,240.5 L338,240.5 L338,241.5 L342,241.5 L342,242.3 L344.2,242.3 L344.2,245.1 L357.3,245.1 L357.3,246.2 L363,246.2 L363,247 L369,247 L369,248.3 L382.6,248.3 L382.6,249.8 L383.4,249.8 L383.4,251.3 L384.2,251.3 L384.2,252.8 L385,252.8 L385,254.1 L422.4,254.1 L422.4,254.1" fill="none" stroke="#42a040" stroke-width="1.2" stroke-linejoin="miter"/>
<path d="M324.9,235.4 L330.7,235.4 L330.7,239.6 L337.6,239.6 L337.6,253.2 L339,253.2 L339,258 L342.1,258 L342.1,264.1 L359.2,264.1 L359.2,275.8 L367.3,275.8 L367.3,281.7 L378.5,281.7 L378.5,288.5 L400.8,288.5 L400.8,288.5" fill="none" stroke="#5f4a74" stroke-width="1.2" stroke-linejoin="miter"/>
<path d="M324.9,235.4 L327,235.4 L327,237.7 L329,237.7 L329,240 L331,240 L331,242.2 L332.5,242.2 L332.5,244.5 L333.5,244.5 L333.5,246.8 L334,246.8 L334,249 L335,249 L335,251.3 L335.5,251.3 L335.5,253.5 L337,253.5 L337,255.8 L339.5,255.8 L339.5,258 L345.5,258 L345.5,262.3 L352.7,262.3 L352.7,264.6 L357,264.6 L357,268 L358,268 L358,270.4 L359.6,270.4 L359.6,273.5 L366,273.5 L366,276.2 L373.5,276.2 L373.5,278 L375.5,278 L375.5,280.2 L381.9,280.2 L381.9,285 L400.8,285 L400.8,285" fill="none" stroke="#b41e3e" stroke-width="1.2" stroke-linejoin="miter"/>
<path d="M324.9,235.4 L327,235.4 L327,237.3 L329,237.3 L329,239.7 L342.3,239.7 L342.3,241.6 L358.5,241.6 L358.5,243.5 L364,243.5 L364,246.2 L372,246.2 L372,248.4 L409.4,248.4 L409.4,248.4" fill="none" stroke="#25477a" stroke-width="1.2" stroke-linejoin="miter"/>
<line x1="385.5" y1="253.10" x2="385.5" y2="254.90" stroke="#42a040" stroke-width="1.0"/>
<line x1="386.7" y1="253.10" x2="386.7" y2="254.90" stroke="#42a040" stroke-width="1.0"/>
<line x1="387.9" y1="253.10" x2="387.9" y2="254.90" stroke="#42a040" stroke-width="1.0"/>
<line x1="389.1" y1="253.10" x2="389.1" y2="254.90" stroke="#42a040" stroke-width="1.0"/>
<line x1="390.3" y1="253.10" x2="390.3" y2="254.90" stroke="#42a040" stroke-width="1.0"/>
<line x1="391.5" y1="253.10" x2="391.5" y2="254.90" stroke="#42a040" stroke-width="1.0"/>
<line x1="392.7" y1="253.10" x2="392.7" y2="254.90" stroke="#42a040" stroke-width="1.0"/>
<line x1="393.9" y1="253.10" x2="393.9" y2="254.90" stroke="#42a040" stroke-width="1.0"/>
<line x1="395.1" y1="253.10" x2="395.1" y2="254.90" stroke="#42a040" stroke-width="1.0"/>
<line x1="396.3" y1="253.10" x2="396.3" y2="254.90" stroke="#42a040" stroke-width="1.0"/>
<line x1="397.5" y1="253.10" x2="397.5" y2="254.90" stroke="#42a040" stroke-width="1.0"/>
<line x1="398.7" y1="253.10" x2="398.7" y2="254.90" stroke="#42a040" stroke-width="1.0"/>
<line x1="399.9" y1="253.10" x2="399.9" y2="254.90" stroke="#42a040" stroke-width="1.0"/>
<line x1="401.1" y1="253.10" x2="401.1" y2="254.90" stroke="#42a040" stroke-width="1.0"/>
<line x1="402.3" y1="253.10" x2="402.3" y2="254.90" stroke="#42a040" stroke-width="1.0"/>
<line x1="403.5" y1="253.10" x2="403.5" y2="254.90" stroke="#42a040" stroke-width="1.0"/>
<line x1="404.7" y1="253.10" x2="404.7" y2="254.90" stroke="#42a040" stroke-width="1.0"/>
<line x1="407.5" y1="253.10" x2="407.5" y2="254.90" stroke="#42a040" stroke-width="1.0"/>
<line x1="410.5" y1="253.10" x2="410.5" y2="254.90" stroke="#42a040" stroke-width="1.0"/>
<line x1="413" y1="253.10" x2="413" y2="254.90" stroke="#42a040" stroke-width="1.0"/>
<line x1="416" y1="253.10" x2="416" y2="254.90" stroke="#42a040" stroke-width="1.0"/>
<line x1="419" y1="253.10" x2="419" y2="254.90" stroke="#42a040" stroke-width="1.0"/>
<line x1="422.4" y1="253.10" x2="422.4" y2="254.90" stroke="#42a040" stroke-width="1.0"/>
<line x1="358.5" y1="242.50" x2="358.5" y2="244.30" stroke="#25477a" stroke-width="1.0"/>
<line x1="368" y1="245.20" x2="368" y2="247.00" stroke="#25477a" stroke-width="1.0"/>
<line x1="370.8" y1="245.20" x2="370.8" y2="247.00" stroke="#25477a" stroke-width="1.0"/>
<line x1="383.0" y1="247.40" x2="383.0" y2="249.20" stroke="#25477a" stroke-width="1.0"/>
<line x1="384.2" y1="247.40" x2="384.2" y2="249.20" stroke="#25477a" stroke-width="1.0"/>
<line x1="385.4" y1="247.40" x2="385.4" y2="249.20" stroke="#25477a" stroke-width="1.0"/>
<line x1="386.6" y1="247.40" x2="386.6" y2="249.20" stroke="#25477a" stroke-width="1.0"/>
<line x1="387.8" y1="247.40" x2="387.8" y2="249.20" stroke="#25477a" stroke-width="1.0"/>
<line x1="389.0" y1="247.40" x2="389.0" y2="249.20" stroke="#25477a" stroke-width="1.0"/>
<line x1="390.2" y1="247.40" x2="390.2" y2="249.20" stroke="#25477a" stroke-width="1.0"/>
<line x1="391.4" y1="247.40" x2="391.4" y2="249.20" stroke="#25477a" stroke-width="1.0"/>
<line x1="392.6" y1="247.40" x2="392.6" y2="249.20" stroke="#25477a" stroke-width="1.0"/>
<line x1="393.8" y1="247.40" x2="393.8" y2="249.20" stroke="#25477a" stroke-width="1.0"/>
<line x1="395.0" y1="247.40" x2="395.0" y2="249.20" stroke="#25477a" stroke-width="1.0"/>
<line x1="398" y1="247.40" x2="398" y2="249.20" stroke="#25477a" stroke-width="1.0"/>
<line x1="401" y1="247.40" x2="401" y2="249.20" stroke="#25477a" stroke-width="1.0"/>
<line x1="404" y1="247.40" x2="404" y2="249.20" stroke="#25477a" stroke-width="1.0"/>
<line x1="407" y1="247.40" x2="407" y2="249.20" stroke="#25477a" stroke-width="1.0"/>
<line x1="409.4" y1="247.40" x2="409.4" y2="249.20" stroke="#25477a" stroke-width="1.0"/>
<line x1="377" y1="279.20" x2="377" y2="281.00" stroke="#b41e3e" stroke-width="1.0"/>
<line x1="379" y1="279.20" x2="379" y2="281.00" stroke="#b41e3e" stroke-width="1.0"/>
<line x1="381" y1="279.20" x2="381" y2="281.00" stroke="#b41e3e" stroke-width="1.0"/>
<line x1="390" y1="284.00" x2="390" y2="285.80" stroke="#b41e3e" stroke-width="1.0"/>
<line x1="394" y1="284.00" x2="394" y2="285.80" stroke="#b41e3e" stroke-width="1.0"/>
<line x1="397" y1="284.00" x2="397" y2="285.80" stroke="#b41e3e" stroke-width="1.0"/>
<line x1="400.8" y1="284.00" x2="400.8" y2="285.80" stroke="#b41e3e" stroke-width="1.0"/>
<line x1="390" y1="287.50" x2="390" y2="289.30" stroke="#5f4a74" stroke-width="1.0"/>
<line x1="396" y1="287.50" x2="396" y2="289.30" stroke="#5f4a74" stroke-width="1.0"/>
<line x1="400.8" y1="287.50" x2="400.8" y2="289.30" stroke="#5f4a74" stroke-width="1.0"/>
<line x1="170.2" y1="25.0" x2="179.8" y2="25.0" stroke="#42a040" stroke-width="1"/>
<line x1="175.0" y1="23.5" x2="175.0" y2="25.0" stroke="#42a040" stroke-width="0.9"/>
<text x="182.7" y="27.40" font-size="6.6" fill="#2c2c2c" stroke="#2c2c2c" stroke-width="0.07" text-anchor="start" textLength="36.0" lengthAdjust="spacingAndGlyphs">MS– to MS–</text>
<line x1="170.2" y1="33.2" x2="179.8" y2="33.2" stroke="#b41e3e" stroke-width="1"/>
<line x1="175.0" y1="31.700000000000003" x2="175.0" y2="33.2" stroke="#b41e3e" stroke-width="0.9"/>
<text x="182.7" y="35.60" font-size="6.6" fill="#2c2c2c" stroke="#2c2c2c" stroke-width="0.07" text-anchor="start" textLength="37.6" lengthAdjust="spacingAndGlyphs">MS+ to MS+</text>
<line x1="170.2" y1="41.1" x2="179.8" y2="41.1" stroke="#25477a" stroke-width="1"/>
<line x1="175.0" y1="39.6" x2="175.0" y2="41.1" stroke="#25477a" stroke-width="0.9"/>
<text x="182.7" y="43.50" font-size="6.6" fill="#2c2c2c" stroke="#2c2c2c" stroke-width="0.07" text-anchor="start" textLength="36.8" lengthAdjust="spacingAndGlyphs">MS+ to MS–</text>
<line x1="422.8" y1="25.0" x2="432.3" y2="25.0" stroke="#42a040" stroke-width="1"/>
<line x1="427.55" y1="23.5" x2="427.55" y2="25.0" stroke="#42a040" stroke-width="0.9"/>
<text x="435.3" y="27.40" font-size="6.6" fill="#2c2c2c" stroke="#2c2c2c" stroke-width="0.07" text-anchor="start" textLength="44.6" lengthAdjust="spacingAndGlyphs">NGF– to NGF–</text>
<line x1="422.8" y1="33.2" x2="432.3" y2="33.2" stroke="#b41e3e" stroke-width="1"/>
<line x1="427.55" y1="31.700000000000003" x2="427.55" y2="33.2" stroke="#b41e3e" stroke-width="0.9"/>
<text x="435.3" y="35.60" font-size="6.6" fill="#2c2c2c" stroke="#2c2c2c" stroke-width="0.07" text-anchor="start" textLength="46.8" lengthAdjust="spacingAndGlyphs">NGF+ to NGF+</text>
<line x1="422.8" y1="41.1" x2="432.3" y2="41.1" stroke="#25477a" stroke-width="1"/>
<line x1="427.55" y1="39.6" x2="427.55" y2="41.1" stroke="#25477a" stroke-width="0.9"/>
<text x="435.3" y="43.50" font-size="6.6" fill="#2c2c2c" stroke="#2c2c2c" stroke-width="0.07" text-anchor="start" textLength="45.7" lengthAdjust="spacingAndGlyphs">NGF+ to NGF–</text>
<line x1="161.3" y1="217.4" x2="170.9" y2="217.4" stroke="#42a040" stroke-width="1"/>
<line x1="166.10000000000002" y1="215.9" x2="166.10000000000002" y2="217.4" stroke="#42a040" stroke-width="0.9"/>
<text x="173.8" y="219.80" font-size="6.6" fill="#2c2c2c" stroke="#2c2c2c" stroke-width="0.07" text-anchor="start" textLength="36.0" lengthAdjust="spacingAndGlyphs">MS– to MS–</text>
<line x1="161.3" y1="225.4" x2="170.9" y2="225.4" stroke="#b41e3e" stroke-width="1"/>
<line x1="166.10000000000002" y1="223.9" x2="166.10000000000002" y2="225.4" stroke="#b41e3e" stroke-width="0.9"/>
<text x="173.8" y="227.80" font-size="6.6" fill="#2c2c2c" stroke="#2c2c2c" stroke-width="0.07" text-anchor="start" textLength="37.6" lengthAdjust="spacingAndGlyphs">MS+ to MS+</text>
<line x1="161.3" y1="233.3" x2="170.9" y2="233.3" stroke="#5f4a74" stroke-width="1"/>
<line x1="166.10000000000002" y1="231.8" x2="166.10000000000002" y2="233.3" stroke="#5f4a74" stroke-width="0.9"/>
<text x="173.8" y="235.70" font-size="6.6" fill="#2c2c2c" stroke="#2c2c2c" stroke-width="0.07" text-anchor="start" textLength="36.8" lengthAdjust="spacingAndGlyphs">MS– to MS+</text>
<line x1="161.3" y1="241.2" x2="170.9" y2="241.2" stroke="#25477a" stroke-width="1"/>
<line x1="166.10000000000002" y1="239.7" x2="166.10000000000002" y2="241.2" stroke="#25477a" stroke-width="0.9"/>
<text x="173.8" y="243.60" font-size="6.6" fill="#2c2c2c" stroke="#2c2c2c" stroke-width="0.07" text-anchor="start" textLength="36.8" lengthAdjust="spacingAndGlyphs">MS+ to MS–</text>
<line x1="413.3" y1="217.2" x2="422.8" y2="217.2" stroke="#42a040" stroke-width="1"/>
<line x1="418.05" y1="215.7" x2="418.05" y2="217.2" stroke="#42a040" stroke-width="0.9"/>
<text x="425.8" y="219.60" font-size="6.6" fill="#2c2c2c" stroke="#2c2c2c" stroke-width="0.07" text-anchor="start" textLength="44.0" lengthAdjust="spacingAndGlyphs">NGF– to NGF–</text>
<line x1="413.3" y1="225.2" x2="422.8" y2="225.2" stroke="#b41e3e" stroke-width="1"/>
<line x1="418.05" y1="223.7" x2="418.05" y2="225.2" stroke="#b41e3e" stroke-width="0.9"/>
<text x="425.8" y="227.60" font-size="6.6" fill="#2c2c2c" stroke="#2c2c2c" stroke-width="0.07" text-anchor="start" textLength="46.2" lengthAdjust="spacingAndGlyphs">NGF+ to NGF+</text>
<line x1="413.3" y1="233.2" x2="422.8" y2="233.2" stroke="#5f4a74" stroke-width="1"/>
<line x1="418.05" y1="231.7" x2="418.05" y2="233.2" stroke="#5f4a74" stroke-width="0.9"/>
<text x="425.8" y="235.60" font-size="6.6" fill="#2c2c2c" stroke="#2c2c2c" stroke-width="0.07" text-anchor="start" textLength="45.1" lengthAdjust="spacingAndGlyphs">NGF– to NGF+</text>
<line x1="413.3" y1="241.2" x2="422.8" y2="241.2" stroke="#25477a" stroke-width="1"/>
<line x1="418.05" y1="239.7" x2="418.05" y2="241.2" stroke="#25477a" stroke-width="0.9"/>
<text x="425.8" y="243.60" font-size="6.6" fill="#2c2c2c" stroke="#2c2c2c" stroke-width="0.07" text-anchor="start" textLength="45.1" lengthAdjust="spacingAndGlyphs">NGF+ to NGF–</text>
<path d="M224.4,23.9 L227.3,23.9 L227.3,34.2 L224.4,34.2" fill="none" stroke="#4a4a4a" stroke-width="0.95"/>
<rect x="230.00" y="28.20" width="1.6" height="1.6" fill="#3a3a3a"/>
<rect x="233.20" y="28.20" width="1.6" height="1.6" fill="#3a3a3a"/>
<path d="M485.3,23.2 L488.2,23.2 L488.2,32.2 L485.3,32.2" fill="none" stroke="#4a4a4a" stroke-width="0.95"/>
<rect x="490.10" y="26.60" width="1.6" height="1.6" fill="#3a3a3a"/>
<rect x="493.20" y="26.60" width="1.6" height="1.6" fill="#3a3a3a"/>
<path d="M485.3,33.6 L488.2,33.6 L488.2,42.6 L485.3,42.6" fill="none" stroke="#4a4a4a" stroke-width="0.95"/>
<rect x="490.10" y="37.10" width="1.6" height="1.6" fill="#3a3a3a"/>
<rect x="493.20" y="37.10" width="1.6" height="1.6" fill="#3a3a3a"/>
<path d="M213.7,215.8 L216.6,215.8 L216.6,244.3 L213.7,244.3 M214.29999999999998,225.2 L216.6,225.2 M214.29999999999998,235.0 L216.6,235.0" fill="none" stroke="#4a4a4a" stroke-width="0.95"/>
<rect x="218.90" y="219.10" width="1.6" height="1.6" fill="#3a3a3a"/>
<rect x="221.80" y="219.10" width="1.6" height="1.6" fill="#3a3a3a"/>
<rect x="218.90" y="229.10" width="1.6" height="1.6" fill="#3a3a3a"/>
<rect x="221.80" y="229.10" width="1.6" height="1.6" fill="#3a3a3a"/>
<rect x="218.90" y="238.80" width="1.6" height="1.6" fill="#3a3a3a"/>
<rect x="221.80" y="238.80" width="1.6" height="1.6" fill="#3a3a3a"/>
<rect x="224.70" y="238.80" width="1.6" height="1.6" fill="#3a3a3a"/>
<rect x="227.60" y="238.80" width="1.6" height="1.6" fill="#3a3a3a"/>
<path d="M225.5,215.4 L228.4,215.4 L228.4,234.5 L225.5,234.5" fill="none" stroke="#4a4a4a" stroke-width="0.95"/>
<rect x="230.90" y="224.20" width="1.6" height="1.6" fill="#3a3a3a"/>
<rect x="233.90" y="224.20" width="1.6" height="1.6" fill="#3a3a3a"/>
<rect x="236.90" y="224.20" width="1.6" height="1.6" fill="#3a3a3a"/>
<rect x="239.90" y="224.20" width="1.6" height="1.6" fill="#3a3a3a"/>
<path d="M474.20000000000005,216.6 L477.1,216.6 L477.1,226.1 L474.20000000000005,226.1" fill="none" stroke="#4a4a4a" stroke-width="0.95"/>
<rect x="479.40" y="220.40" width="1.6" height="1.6" fill="#3a3a3a"/>
<rect x="482.40" y="220.40" width="1.6" height="1.6" fill="#3a3a3a"/>
<rect x="485.40" y="220.40" width="1.6" height="1.6" fill="#3a3a3a"/>
<rect x="488.40" y="220.40" width="1.6" height="1.6" fill="#3a3a3a"/>
<path d="M474.20000000000005,233.3 L477.1,233.3 L477.1,243.2 L474.20000000000005,243.2" fill="none" stroke="#4a4a4a" stroke-width="0.95"/>
<rect x="479.40" y="237.20" width="1.6" height="1.6" fill="#3a3a3a"/>
<rect x="482.40" y="237.20" width="1.6" height="1.6" fill="#3a3a3a"/>
<rect x="485.40" y="237.20" width="1.6" height="1.6" fill="#3a3a3a"/>
<path d="M500.3,215.2 L503.2,215.2 L503.2,230.4 L500.3,230.4" fill="none" stroke="#4a4a4a" stroke-width="0.95"/>
<rect x="505.20" y="222.50" width="1.6" height="1.6" fill="#3a3a3a"/>
<rect x="508.20" y="222.50" width="1.6" height="1.6" fill="#3a3a3a"/>
<rect x="511.20" y="222.50" width="1.6" height="1.6" fill="#3a3a3a"/>
<path d="M492.70000000000005,225.7 L495.6,225.7 L495.6,243.2 L492.70000000000005,243.2" fill="none" stroke="#4a4a4a" stroke-width="0.95"/>
<rect x="498.40" y="234.10" width="1.6" height="1.6" fill="#3a3a3a"/>
<rect x="501.40" y="234.10" width="1.6" height="1.6" fill="#3a3a3a"/>
<rect x="504.40" y="234.10" width="1.6" height="1.6" fill="#3a3a3a"/>
<text x="189.4" y="67.9" font-size="6.6" fill="#42a040" stroke="#42a040" stroke-width="0.07" text-anchor="start" textLength="54" lengthAdjust="spacingAndGlyphs">mPFS not reached</text>
<text x="189.2" y="74.3" font-size="6.6" fill="#25477a" stroke="#25477a" stroke-width="0.07" text-anchor="start" textLength="54" lengthAdjust="spacingAndGlyphs">mPFS not reached</text>
<text x="186.0" y="90.2" font-size="6.6" fill="#b41e3e" stroke="#b41e3e" stroke-width="0.07" text-anchor="start" textLength="50" lengthAdjust="spacingAndGlyphs">mPFS: 4.04 years</text>
<text x="441.9" y="68.0" font-size="6.6" fill="#42a040" stroke="#42a040" stroke-width="0.07" text-anchor="start" textLength="54" lengthAdjust="spacingAndGlyphs">mPFS not reached</text>
<text x="441.9" y="74.6" font-size="6.6" fill="#25477a" stroke="#25477a" stroke-width="0.07" text-anchor="start" textLength="54" lengthAdjust="spacingAndGlyphs">mPFS not reached</text>
<text x="438.6" y="90.5" font-size="6.6" fill="#b41e3e" stroke="#b41e3e" stroke-width="0.07" text-anchor="start" textLength="50.5" lengthAdjust="spacingAndGlyphs">mPFS: 3.99 years</text>
<text x="170" y="255.8" font-size="6.6" fill="#42a040" stroke="#42a040" stroke-width="0.07" text-anchor="start" textLength="53.8" lengthAdjust="spacingAndGlyphs">mPFS not reached</text>
<text x="170" y="263.8" font-size="6.6" fill="#25477a" stroke="#25477a" stroke-width="0.07" text-anchor="start" textLength="53.8" lengthAdjust="spacingAndGlyphs">mPFS not reached</text>
<text x="170" y="271.7" font-size="6.6" fill="#b41e3e" stroke="#b41e3e" stroke-width="0.07" text-anchor="start" textLength="53.8" lengthAdjust="spacingAndGlyphs">mPFS not reached</text>
<text x="170" y="303.5" font-size="6.6" fill="#5f4a74" stroke="#5f4a74" stroke-width="0.07" text-anchor="start" textLength="50" lengthAdjust="spacingAndGlyphs">mPFS: 0.76 years</text>
<text x="435.2" y="252.3" font-size="6.6" fill="#25477a" stroke="#25477a" stroke-width="0.07" text-anchor="start" textLength="54.5" lengthAdjust="spacingAndGlyphs"><tspan font-style="italic">mPFS</tspan> not reached</text>
<text x="435.2" y="261.4" font-size="6.6" fill="#42a040" stroke="#42a040" stroke-width="0.07" text-anchor="start" textLength="54.5" lengthAdjust="spacingAndGlyphs"><tspan font-style="italic">mPFS</tspan> not reached</text>
<text x="435.2" y="283.8" font-size="6.6" fill="#b41e3e" stroke="#b41e3e" stroke-width="0.07" text-anchor="start" textLength="50.5" lengthAdjust="spacingAndGlyphs"><tspan font-style="italic">mPFS</tspan>: 2.64 years</text>
<text x="435.2" y="294.4" font-size="6.6" fill="#5f4a74" stroke="#5f4a74" stroke-width="0.07" text-anchor="start" textLength="50.5" lengthAdjust="spacingAndGlyphs"><tspan font-style="italic">mPFS</tspan>: 2.28 years</text>
<text x="74.6" y="115.9" font-size="6.6" fill="#2c2c2c" stroke="#2c2c2c" stroke-width="0.07" textLength="28.3" lengthAdjust="spacingAndGlyphs"><tspan font-style="normal">P</tspan> = .0042</text>
<text x="327.1" y="115.9" font-size="6.6" fill="#2c2c2c" stroke="#2c2c2c" stroke-width="0.07" textLength="28.0" lengthAdjust="spacingAndGlyphs"><tspan font-style="italic">P</tspan> = .0008</text>
<text x="74.6" y="313.5" font-size="6.6" fill="#2c2c2c" stroke="#2c2c2c" stroke-width="0.07" textLength="27.7" lengthAdjust="spacingAndGlyphs"><tspan font-style="italic">P</tspan> &lt; .0001</text>
<text x="331.5" y="313.4" font-size="6.6" fill="#2c2c2c" stroke="#2c2c2c" stroke-width="0.07" textLength="27.7" lengthAdjust="spacingAndGlyphs"><tspan font-style="italic">P</tspan> &lt; .0001</text>
<text x="68.10" y="154.70" font-size="6.7" fill="#2c2c2c" stroke="#2c2c2c" stroke-width="0.07" text-anchor="start" textLength="68" lengthAdjust="spacingAndGlyphs">Number at risk by time</text>
<text x="19.0" y="165.00" font-size="6.7" fill="#2c2c2c" stroke="#2c2c2c" stroke-width="0.07" text-anchor="start" textLength="35.8" lengthAdjust="spacingAndGlyphs">MS– to MS–</text>
<text x="68.60" y="165.00" font-size="6.8" fill="#2c2c2c" stroke="#2c2c2c" stroke-width="0.07" text-anchor="middle">57</text>
<text x="101.80" y="165.00" font-size="6.8" fill="#2c2c2c" stroke="#2c2c2c" stroke-width="0.07" text-anchor="middle">54</text>
<text x="134.60" y="165.00" font-size="6.8" fill="#2c2c2c" stroke="#2c2c2c" stroke-width="0.07" text-anchor="middle">48</text>
<text x="169.10" y="165.00" font-size="6.8" fill="#2c2c2c" stroke="#2c2c2c" stroke-width="0.07" text-anchor="middle">15</text>
<text x="202.40" y="165.00" font-size="6.8" fill="#2c2c2c" stroke="#2c2c2c" stroke-width="0.07" text-anchor="middle">0</text>
<text x="19.0" y="175.10" font-size="6.7" fill="#2c2c2c" stroke="#2c2c2c" stroke-width="0.07" text-anchor="start" textLength="37.4" lengthAdjust="spacingAndGlyphs">MS+ to MS+</text>
<text x="68.60" y="175.10" font-size="6.8" fill="#2c2c2c" stroke="#2c2c2c" stroke-width="0.07" text-anchor="middle">42</text>
<text x="101.80" y="175.10" font-size="6.8" fill="#2c2c2c" stroke="#2c2c2c" stroke-width="0.07" text-anchor="middle">31</text>
<text x="134.60" y="175.10" font-size="6.8" fill="#2c2c2c" stroke="#2c2c2c" stroke-width="0.07" text-anchor="middle">22</text>
<text x="169.10" y="175.10" font-size="6.8" fill="#2c2c2c" stroke="#2c2c2c" stroke-width="0.07" text-anchor="middle">9</text>
<text x="202.40" y="175.10" font-size="6.8" fill="#2c2c2c" stroke="#2c2c2c" stroke-width="0.07" text-anchor="middle">0</text>
<text x="19.0" y="185.10" font-size="6.7" fill="#2c2c2c" stroke="#2c2c2c" stroke-width="0.07" text-anchor="start" textLength="36.6" lengthAdjust="spacingAndGlyphs">MS+ to MS–</text>
<text x="68.60" y="185.10" font-size="6.8" fill="#2c2c2c" stroke="#2c2c2c" stroke-width="0.07" text-anchor="middle">35</text>
<text x="101.80" y="185.10" font-size="6.8" fill="#2c2c2c" stroke="#2c2c2c" stroke-width="0.07" text-anchor="middle">32</text>
<text x="134.60" y="185.10" font-size="6.8" fill="#2c2c2c" stroke="#2c2c2c" stroke-width="0.07" text-anchor="middle">26</text>
<text x="169.10" y="185.10" font-size="6.8" fill="#2c2c2c" stroke="#2c2c2c" stroke-width="0.07" text-anchor="middle">15</text>
<text x="202.40" y="185.10" font-size="6.8" fill="#2c2c2c" stroke="#2c2c2c" stroke-width="0.07" text-anchor="middle">0</text>
<text x="320.70" y="154.70" font-size="6.7" fill="#2c2c2c" stroke="#2c2c2c" stroke-width="0.07" text-anchor="start" textLength="68" lengthAdjust="spacingAndGlyphs">Number at risk by time</text>
<text x="264.2" y="165.00" font-size="6.7" fill="#2c2c2c" stroke="#2c2c2c" stroke-width="0.07" text-anchor="start" textLength="44.2" lengthAdjust="spacingAndGlyphs">NGF– to NGF–</text>
<text x="320.50" y="165.00" font-size="6.8" fill="#2c2c2c" stroke="#2c2c2c" stroke-width="0.07" text-anchor="middle">44</text>
<text x="353.80" y="165.00" font-size="6.8" fill="#2c2c2c" stroke="#2c2c2c" stroke-width="0.07" text-anchor="middle">41</text>
<text x="388.30" y="165.00" font-size="6.8" fill="#2c2c2c" stroke="#2c2c2c" stroke-width="0.07" text-anchor="middle">35</text>
<text x="421.60" y="165.00" font-size="6.8" fill="#2c2c2c" stroke="#2c2c2c" stroke-width="0.07" text-anchor="middle">14</text>
<text x="455.10" y="165.00" font-size="6.8" fill="#2c2c2c" stroke="#2c2c2c" stroke-width="0.07" text-anchor="middle">0</text>
<text x="264.2" y="175.10" font-size="6.7" fill="#2c2c2c" stroke="#2c2c2c" stroke-width="0.07" text-anchor="start" textLength="46.4" lengthAdjust="spacingAndGlyphs">NGF+ to NGF+</text>
<text x="320.50" y="175.10" font-size="6.8" fill="#2c2c2c" stroke="#2c2c2c" stroke-width="0.07" text-anchor="middle">57</text>
<text x="353.80" y="175.10" font-size="6.8" fill="#2c2c2c" stroke="#2c2c2c" stroke-width="0.07" text-anchor="middle">42</text>
<text x="388.30" y="175.10" font-size="6.8" fill="#2c2c2c" stroke="#2c2c2c" stroke-width="0.07" text-anchor="middle">28</text>
<text x="421.60" y="175.10" font-size="6.8" fill="#2c2c2c" stroke="#2c2c2c" stroke-width="0.07" text-anchor="middle">10</text>
<text x="455.10" y="175.10" font-size="6.8" fill="#2c2c2c" stroke="#2c2c2c" stroke-width="0.07" text-anchor="middle">0</text>
<text x="264.2" y="185.10" font-size="6.7" fill="#2c2c2c" stroke="#2c2c2c" stroke-width="0.07" text-anchor="start" textLength="45.3" lengthAdjust="spacingAndGlyphs">NGF+ to NGF–</text>
<text x="320.50" y="185.10" font-size="6.8" fill="#2c2c2c" stroke="#2c2c2c" stroke-width="0.07" text-anchor="middle">33</text>
<text x="353.80" y="185.10" font-size="6.8" fill="#2c2c2c" stroke="#2c2c2c" stroke-width="0.07" text-anchor="middle">32</text>
<text x="388.30" y="185.10" font-size="6.8" fill="#2c2c2c" stroke="#2c2c2c" stroke-width="0.07" text-anchor="middle">32</text>
<text x="421.60" y="185.10" font-size="6.8" fill="#2c2c2c" stroke="#2c2c2c" stroke-width="0.07" text-anchor="middle">12</text>
<text x="455.10" y="185.10" font-size="6.8" fill="#2c2c2c" stroke="#2c2c2c" stroke-width="0.07" text-anchor="middle">0</text>
<text x="68.20" y="352.40" font-size="6.7" fill="#2c2c2c" stroke="#2c2c2c" stroke-width="0.07" text-anchor="start" textLength="68" lengthAdjust="spacingAndGlyphs">Number at risk by time</text>
<text x="19.2" y="362.20" font-size="6.7" fill="#2c2c2c" stroke="#2c2c2c" stroke-width="0.07" text-anchor="start" textLength="35.8" lengthAdjust="spacingAndGlyphs">MS– to MS–</text>
<text x="68.40" y="362.20" font-size="6.8" fill="#2c2c2c" stroke="#2c2c2c" stroke-width="0.07" text-anchor="middle">113</text>
<text x="105.50" y="362.20" font-size="6.8" fill="#2c2c2c" stroke="#2c2c2c" stroke-width="0.07" text-anchor="middle">101</text>
<text x="143.10" y="362.20" font-size="6.8" fill="#2c2c2c" stroke="#2c2c2c" stroke-width="0.07" text-anchor="middle">37</text>
<text x="180.60" y="362.20" font-size="6.8" fill="#2c2c2c" stroke="#2c2c2c" stroke-width="0.07" text-anchor="middle">0</text>
<text x="19.2" y="372.30" font-size="6.7" fill="#2c2c2c" stroke="#2c2c2c" stroke-width="0.07" text-anchor="start" textLength="37.4" lengthAdjust="spacingAndGlyphs">MS+ to MS+</text>
<text x="68.40" y="372.30" font-size="6.8" fill="#2c2c2c" stroke="#2c2c2c" stroke-width="0.07" text-anchor="middle">36</text>
<text x="105.50" y="372.30" font-size="6.8" fill="#2c2c2c" stroke="#2c2c2c" stroke-width="0.07" text-anchor="middle">23</text>
<text x="143.10" y="372.30" font-size="6.8" fill="#2c2c2c" stroke="#2c2c2c" stroke-width="0.07" text-anchor="middle">11</text>
<text x="180.60" y="372.30" font-size="6.8" fill="#2c2c2c" stroke="#2c2c2c" stroke-width="0.07" text-anchor="middle">0</text>
<text x="19.2" y="382.40" font-size="6.7" fill="#2c2c2c" stroke="#2c2c2c" stroke-width="0.07" text-anchor="start" textLength="36.6" lengthAdjust="spacingAndGlyphs">MS– to MS+</text>
<text x="68.40" y="382.40" font-size="6.8" fill="#2c2c2c" stroke="#2c2c2c" stroke-width="0.07" text-anchor="middle">11</text>
<text x="105.50" y="382.40" font-size="6.8" fill="#2c2c2c" stroke="#2c2c2c" stroke-width="0.07" text-anchor="middle">4</text>
<text x="143.10" y="382.40" font-size="6.8" fill="#2c2c2c" stroke="#2c2c2c" stroke-width="0.07" text-anchor="middle">2</text>
<text x="180.60" y="382.40" font-size="6.8" fill="#2c2c2c" stroke="#2c2c2c" stroke-width="0.07" text-anchor="middle">0</text>
<text x="19.2" y="392.50" font-size="6.7" fill="#2c2c2c" stroke="#2c2c2c" stroke-width="0.07" text-anchor="start" textLength="36.6" lengthAdjust="spacingAndGlyphs">MS+ to MS–</text>
<text x="68.40" y="392.50" font-size="6.8" fill="#2c2c2c" stroke="#2c2c2c" stroke-width="0.07" text-anchor="middle">23</text>
<text x="105.50" y="392.50" font-size="6.8" fill="#2c2c2c" stroke="#2c2c2c" stroke-width="0.07" text-anchor="middle">21</text>
<text x="143.10" y="392.50" font-size="6.8" fill="#2c2c2c" stroke="#2c2c2c" stroke-width="0.07" text-anchor="middle">6</text>
<text x="180.60" y="392.50" font-size="6.8" fill="#2c2c2c" stroke="#2c2c2c" stroke-width="0.07" text-anchor="middle">0</text>
<text x="324.90" y="352.40" font-size="6.7" fill="#2c2c2c" stroke="#2c2c2c" stroke-width="0.07" text-anchor="start" textLength="68" lengthAdjust="spacingAndGlyphs">Number at risk by time</text>
<text x="264.2" y="362.20" font-size="6.7" fill="#2c2c2c" stroke="#2c2c2c" stroke-width="0.07" text-anchor="start" textLength="44.2" lengthAdjust="spacingAndGlyphs">NGF– to NGF–</text>
<text x="325.80" y="362.20" font-size="6.8" fill="#2c2c2c" stroke="#2c2c2c" stroke-width="0.07" text-anchor="middle">97</text>
<text x="362.90" y="362.20" font-size="6.8" fill="#2c2c2c" stroke="#2c2c2c" stroke-width="0.07" text-anchor="middle">85</text>
<text x="399.70" y="362.20" font-size="6.8" fill="#2c2c2c" stroke="#2c2c2c" stroke-width="0.07" text-anchor="middle">31</text>
<text x="437.00" y="362.20" font-size="6.8" fill="#2c2c2c" stroke="#2c2c2c" stroke-width="0.07" text-anchor="middle">0</text>
<text x="264.2" y="372.30" font-size="6.7" fill="#2c2c2c" stroke="#2c2c2c" stroke-width="0.07" text-anchor="start" textLength="46.4" lengthAdjust="spacingAndGlyphs">NGF+ to NGF+</text>
<text x="325.80" y="372.30" font-size="6.8" fill="#2c2c2c" stroke="#2c2c2c" stroke-width="0.07" text-anchor="middle">36</text>
<text x="362.90" y="372.30" font-size="6.8" fill="#2c2c2c" stroke="#2c2c2c" stroke-width="0.07" text-anchor="middle">21</text>
<text x="399.70" y="372.30" font-size="6.8" fill="#2c2c2c" stroke="#2c2c2c" stroke-width="0.07" text-anchor="middle">8</text>
<text x="437.00" y="372.30" font-size="6.8" fill="#2c2c2c" stroke="#2c2c2c" stroke-width="0.07" text-anchor="middle">0</text>
<text x="264.2" y="382.40" font-size="6.7" fill="#2c2c2c" stroke="#2c2c2c" stroke-width="0.07" text-anchor="start" textLength="45.3" lengthAdjust="spacingAndGlyphs">NGF– to NGF+</text>
<text x="325.80" y="382.40" font-size="6.8" fill="#2c2c2c" stroke="#2c2c2c" stroke-width="0.07" text-anchor="middle">14</text>
<text x="362.90" y="382.40" font-size="6.8" fill="#2c2c2c" stroke="#2c2c2c" stroke-width="0.07" text-anchor="middle">9</text>
<text x="399.70" y="382.40" font-size="6.8" fill="#2c2c2c" stroke="#2c2c2c" stroke-width="0.07" text-anchor="middle">3</text>
<text x="437.00" y="382.40" font-size="6.8" fill="#2c2c2c" stroke="#2c2c2c" stroke-width="0.07" text-anchor="middle">0</text>
<text x="264.2" y="392.50" font-size="6.7" fill="#2c2c2c" stroke="#2c2c2c" stroke-width="0.07" text-anchor="start" textLength="45.3" lengthAdjust="spacingAndGlyphs">NGF+ to NGF–</text>
<text x="325.80" y="392.50" font-size="6.8" fill="#2c2c2c" stroke="#2c2c2c" stroke-width="0.07" text-anchor="middle">37</text>
<text x="362.90" y="392.50" font-size="6.8" fill="#2c2c2c" stroke="#2c2c2c" stroke-width="0.07" text-anchor="middle">34</text>
<text x="399.70" y="392.50" font-size="6.8" fill="#2c2c2c" stroke="#2c2c2c" stroke-width="0.07" text-anchor="middle">14</text>
<text x="437.00" y="392.50" font-size="6.8" fill="#2c2c2c" stroke="#2c2c2c" stroke-width="0.07" text-anchor="middle">0</text>
</g>
<rect x="0.5" y="0.5" width="519" height="399" fill="none" stroke="#555" stroke-width="1.2"/>
</svg></body></html>
